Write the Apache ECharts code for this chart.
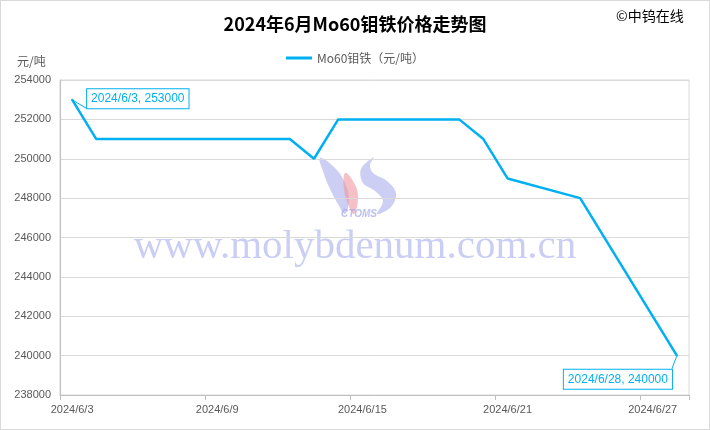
<!DOCTYPE html>
<html>
<head>
<meta charset="utf-8">
<script src="https://cdn.jsdelivr.net/npm/echarts@6/dist/echarts.min.js"></script>
<style>
html,body{margin:0;padding:0;background:#fff;}
#c{width:708px;height:428px;border:1px solid #d9d9d9;}
</style>
</head>
<body>
<div id="c"></div>
<script>
// categories: every calendar day 2024/6/3 .. 2024/6/28
var categories = ['2024/6/3','2024/6/4','2024/6/5','2024/6/6','2024/6/7','2024/6/8','2024/6/9','2024/6/10','2024/6/11','2024/6/12','2024/6/13','2024/6/14','2024/6/15','2024/6/16','2024/6/17','2024/6/18','2024/6/19','2024/6/20','2024/6/21','2024/6/22','2024/6/23','2024/6/24','2024/6/25','2024/6/26','2024/6/27','2024/6/28'];
// prices (null = no quote that day; line connects across)
var prices = [253000,251000,251000,251000,251000,null,null,null,251000,251000,250000,252000,null,null,252000,252000,252000,251000,249000,null,null,248000,null,null,null,240000];
var seriesName = 'Mo60钼铁（元/吨）';
var titleText = '2024年6月Mo60钼铁价格走势图';
var yMin = 238000, yMax = 254000, yStep = 2000;

var lineColor = '#00B0F0';
var labelBase = {
  show: true,
  color: lineColor,
  backgroundColor: '#fff',
  borderColor: lineColor,
  borderWidth: 1,
  padding: [4, 4, 3, 4],
  fontSize: 12,
  fontFamily: 'Liberation Sans',
  formatter: function (p) { return p.name + ', ' + p.value; }
};
var data = prices.map(function (v, i) {
  var d = { value: v };
  if (i === 0) {
    d.symbol = 'circle'; d.symbolSize = 2;
    d.label = Object.assign({}, labelBase, { position: 'right', distance: 14, offset: [0, -1] });
    d.labelLine = { show: true, lineStyle: { color: lineColor, width: 1 } };
  }
  if (i === prices.length - 1) {
    d.symbol = 'circle'; d.symbolSize = 2;
    d.label = Object.assign({}, labelBase, { position: 'bottom', distance: 13, offset: [-59, 0] });
    d.labelLine = { show: true, lineStyle: { color: lineColor, width: 1 } };
  }
  return d;
});

var lav = 'rgba(170,175,235,0.6)';
var chart = echarts.init(document.getElementById('c'));
chart.setOption({
  animation: false,
  backgroundColor: '#fff',
  title: {
    text: titleText,
    left: 'center',
    top: 9,
    textStyle: { fontSize: 18, fontWeight: 'bold', color: '#000', fontFamily: 'Noto Sans CJK SC' }
  },
  legend: {
    top: 46,
    left: 'center',
    itemWidth: 26,
    itemHeight: 3,
    icon: 'rect',
    textStyle: { fontSize: 12, color: '#595959', fontFamily: 'Noto Sans CJK SC' },
    data: [seriesName]
  },
  grid: { left: 59, right: 20, top: 79, bottom: 34, show: true, borderColor: '#d9d9d9', borderWidth: 1 },
  graphic: [
    { type: 'text', x: 615, y: 8, style: { text: '©中钨在线', fontSize: 14, fill: '#000', fontFamily: 'Noto Sans CJK SC' } },
    { type: 'text', x: 16, y: 54, style: { text: '元/吨', fontSize: 12, fill: '#595959', fontFamily: 'Noto Sans CJK SC' } },
    { type: 'text', z: 0, x: 354, y: 246, style: { text: 'www.molybdenum.com.cn', fontSize: 41, fill: 'rgba(160,165,235,0.55)', fontFamily: 'Liberation Serif', textAlign: 'center', textVerticalAlign: 'middle' } },
    { type: 'polygon', z: 0, shape: { smooth: 0.4, points: [[319,157],[334,167],[344,182],[348,198],[344,213],[337,203],[329,188],[323,173]] }, style: { fill: lav } },
    { type: 'polygon', z: 0, shape: { smooth: 0.4, points: [[344,172],[352,180],[357,195],[353,213],[347,203],[343,188]] }, style: { fill: 'rgba(242,150,160,0.6)' } },
    { type: 'polygon', z: 0, shape: { smooth: 0.35, points: [[373,156],[360,168],[362,182],[374,190],[382,200],[376,213],[390,206],[395,192],[386,180],[372,172],[369,164]] }, style: { fill: lav } },
    { type: 'text', z: 0, x: 358, y: 213, style: { text: 'CTOMS', fontSize: 10, fontWeight: 'bold', fontStyle: 'italic', fill: 'rgba(160,165,235,0.7)', fontFamily: 'Liberation Sans', textAlign: 'center', textVerticalAlign: 'middle' } }
  ],
  xAxis: {
    type: 'category',
    data: categories,
    boundaryGap: true,
    axisLine: { lineStyle: { color: '#bfbfbf' } },
    axisTick: { show: true, interval: 5, length: 5, lineStyle: { color: '#bfbfbf' } },
    axisLabel: { interval: 5, color: '#595959', fontSize: 11, fontFamily: 'Liberation Sans', margin: 9 },
    splitLine: { show: false }
  },
  yAxis: {
    type: 'value',
    min: yMin,
    max: yMax,
    interval: yStep,
    axisLine: { show: true, lineStyle: { color: '#bfbfbf' } },
    axisTick: { show: false },
    axisLabel: { color: '#595959', fontSize: 11, fontFamily: 'Liberation Sans', margin: 9, formatter: function (v) { return String(v); } },
    splitLine: { lineStyle: { color: '#d9d9d9' } }
  },
  series: [{
    name: seriesName,
    type: 'line',
    data: data,
    connectNulls: true,
    symbol: 'none',
    showSymbol: true,
    lineStyle: { color: lineColor, width: 2.5 },
    itemStyle: { color: lineColor },
    z: 3
  }]
});
</script>
</body>
</html>
